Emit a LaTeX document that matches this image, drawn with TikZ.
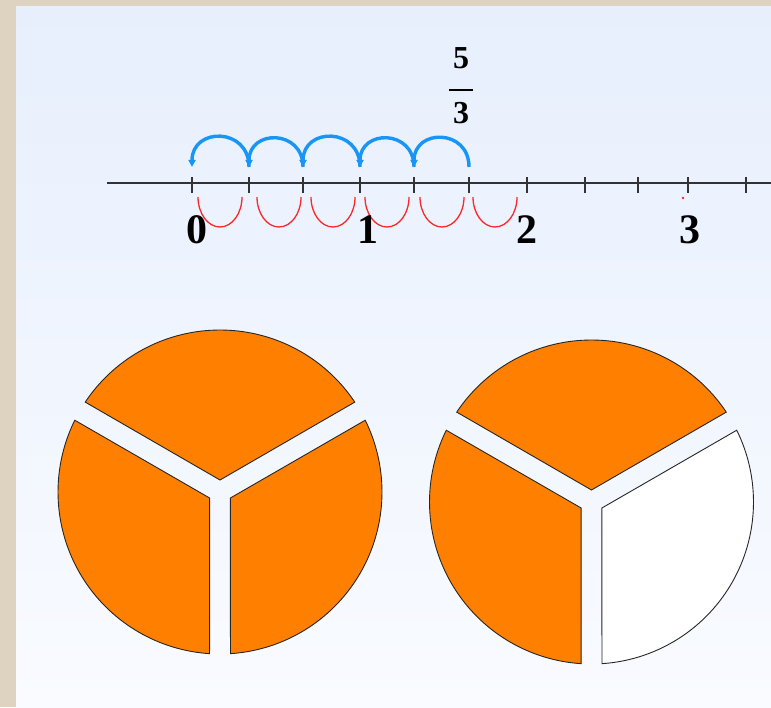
\documentclass[tikz,border=0pt]{standalone}
\usepackage{fontspec}
\setmainfont{Liberation Serif}
\usetikzlibrary{arrows.meta}
\definecolor{pieorange}{RGB}{255,128,0}
\definecolor{jumpblue}{RGB}{25,150,245}
\definecolor{stepred}{RGB}{250,40,40}
\definecolor{paper}{RGB}{221,211,192}
\definecolor{paneltop}{RGB}{231,239,253}
\definecolor{panelbottom}{RGB}{249,251,255}
\begin{document}
\begin{tikzpicture}[
  x=1pt, y=1pt,
  every node/.style={font=\fontsize{42}{42}\selectfont\bfseries},
  axis/.style={draw=black!80, line width=1.6pt},
  tickmark/.style={draw=black!80, line width=1.6pt},
  jump/.style={-{Triangle[length=7pt,width=7pt]}, draw=jumpblue, line width=3.4pt},
  third/.style={draw=stepred, line width=1.3pt},
  piece/.style={draw=black!85, line width=0.9pt, fill=pieorange},
  fraclabel/.style={align=center, font=\fontsize{32}{22}\selectfont\bfseries}
]
\useasboundingbox (0,0) rectangle (771,707);
\fill[paper] (0,0) rectangle (771,707);
\shade[top color=paneltop, bottom color=panelbottom] (16,0) rectangle (771,700);

\coordinate (start) at (107,524);
\coordinate (end) at (771,524);
\draw[axis] (start) -- (end);
\foreach \x [count=\i from 0] in {192,249,303,360,414,469,527,585,638,688,746}
  \coordinate (t\i) at (\x,524);
\foreach \i in {0,...,10}
  \draw[tickmark] ([yshift=6pt]t\i) -- ([yshift=-10pt]t\i);

\foreach \i [evaluate=\i as \j using int(\i+1)] in {0,...,4}
  \draw[jump] ([yshift=16pt]t\j) to[out=90, in=90, looseness=1.8] ([yshift=16pt]t\i);

\foreach \x in {198,257,311,365,420,473}
  \draw[third] (\x,510) arc[start angle=180, end angle=360, x radius=22, y radius=30];
\fill[stepred] (683,509) circle (1.3);

\node (zero) at (197,477) {0};
\node (one) at (368,477) {1};
\node (two) at (527,477) {2};
\node (three) at (690,477) {3};
\node[fraclabel] (fivethirds) at (461,621) {5\\\rule{24pt}{2pt}\\[11pt]3};

\begin{scope}[shift={(220,215)}]
  \foreach \a/\b in {30/150,150/270,270/390}
    \draw[piece] ({(\a+\b)/2}:12) -- ({\a+3.7}:162)
      arc[start angle=\a+3.7, end angle=\b-3.7, radius=162] -- cycle;
\end{scope}

\begin{scope}[shift={(591.5,205)}]
  \foreach \a/\b/\c in {30/150/pieorange,150/270/pieorange,270/390/white}
    \draw[piece, fill=\c] ({(\a+\b)/2}:12) -- ({\a+3.7}:162)
      arc[start angle=\a+3.7, end angle=\b-3.7, radius=162] -- cycle;
\end{scope}
\end{tikzpicture}
\end{document}
